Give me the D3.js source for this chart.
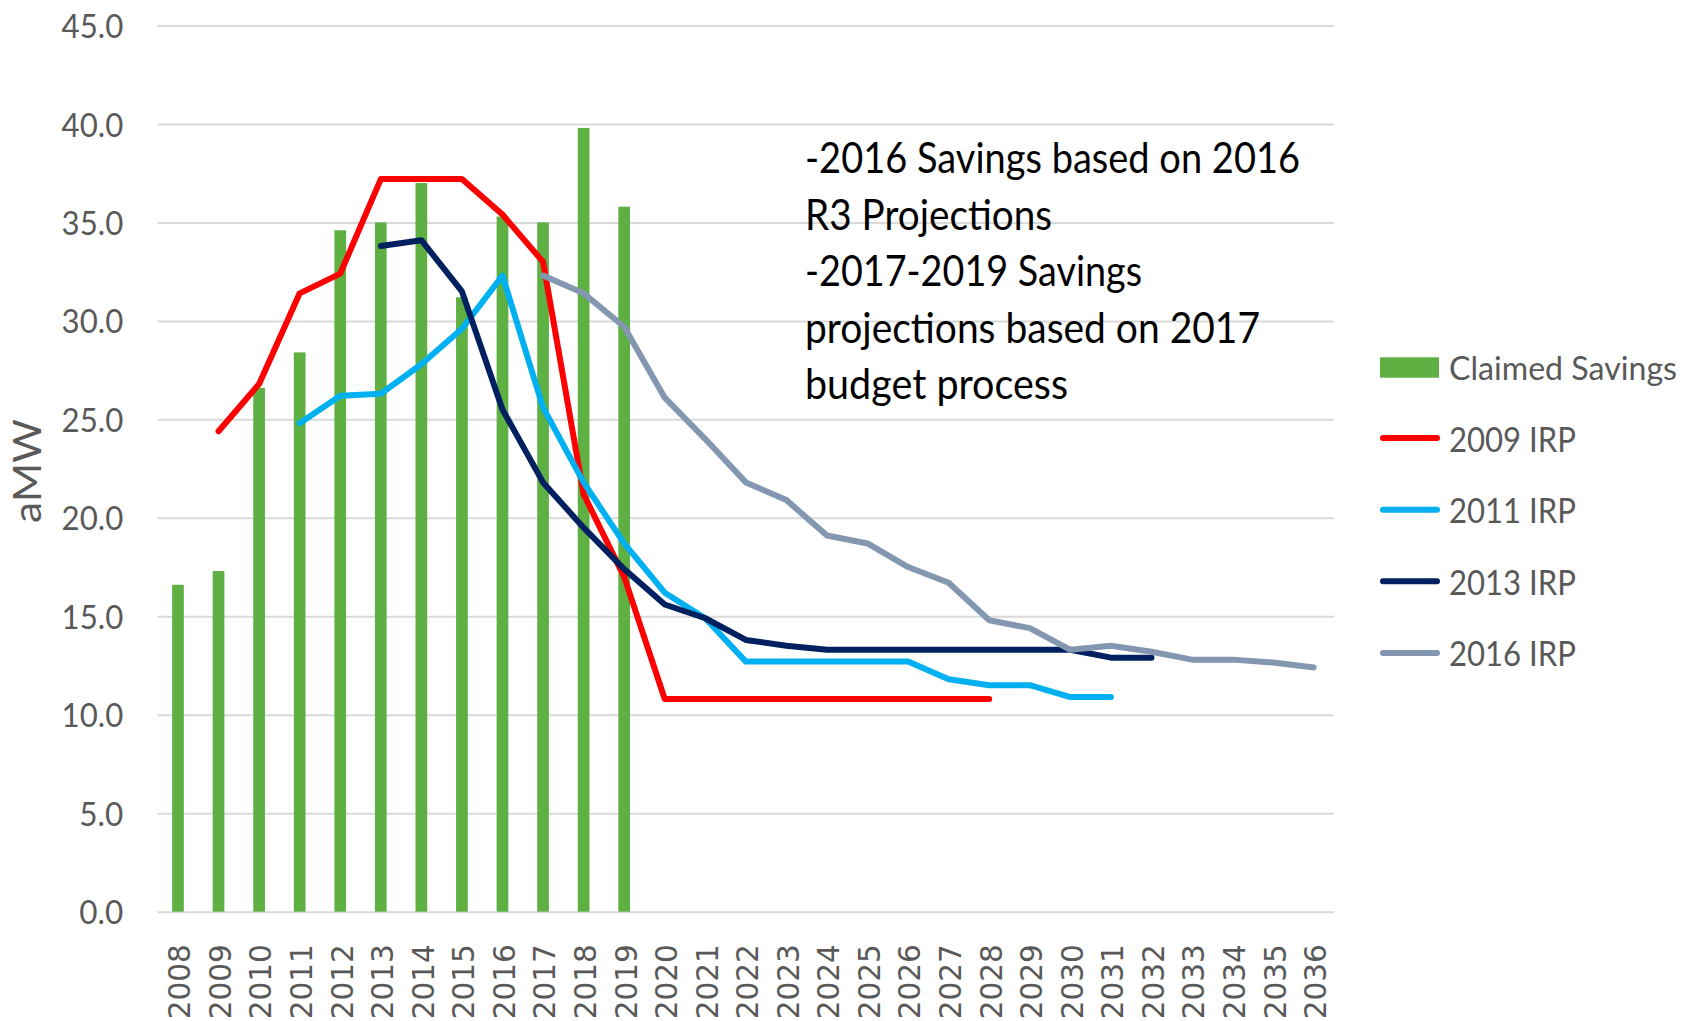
<!DOCTYPE html>
<html><head><meta charset="utf-8">
<script src="https://cdn.jsdelivr.net/npm/d3@7"></script>
<style>body{margin:0;background:#fff;overflow:hidden}</style>
</head><body>
<svg id="chart" width="1686" height="1021"></svg>
<script>
const years = ["2008","2009","2010","2011","2012","2013","2014","2015","2016","2017","2018","2019","2020","2021","2022","2023","2024","2025","2026","2027","2028","2029","2030","2031","2032","2033","2034","2035","2036"];
const yTicks = [0,5,10,15,20,25,30,35,40,45];
const claimedYears = ["2008","2009","2010","2011","2012","2013","2014","2015","2016","2017","2018","2019"];
const claimedSavings = [16.6,17.3,26.6,28.4,34.6,35.0,37.0,31.2,35.3,35.0,39.8,35.8];
const irp2009 = [null,24.4,26.8,31.4,32.4,37.2,37.2,37.2,35.4,33.0,21.2,17.0,10.8,10.8,10.8,10.8,10.8,10.8,10.8,10.8,10.8,null,null,null,null,null,null,null,null];
const irp2011 = [null,null,null,24.8,26.2,26.3,27.8,29.6,32.3,25.6,21.8,18.7,16.2,14.9,12.7,12.7,12.7,12.7,12.7,11.8,11.5,11.5,10.9,10.9,null,null,null,null,null];
const irp2013 = [null,null,null,null,null,33.8,34.1,31.5,25.5,21.8,19.5,17.4,15.6,14.9,13.8,13.5,13.3,13.3,13.3,13.3,13.3,13.3,13.3,12.9,12.9,null,null,null,null];
const irp2016 = [null,null,null,null,null,null,null,null,null,32.3,31.4,29.7,26.1,24.0,21.8,20.9,19.1,18.7,17.5,16.7,14.8,14.4,13.3,13.5,13.2,12.8,12.8,12.65,12.4];
const seriesNames = ["2009 IRP","2011 IRP","2013 IRP","2016 IRP"];
const seriesColors = ["#ff0000","#00b0f0","#002060","#8497b0"];
const barName = "Claimed Savings";
const barColor = "#5eb043";
const noteLines = ["-2016 Savings based on 2016","R3 Projections","-2017-2019 Savings","projections based on 2017","budget process"];
const noteWidths = [495,247,337,455,263];

const svg = d3.select("#chart");
const plotL = 157.7, plotR = 1334, plotT = 25.5, plotB = 911.7;
const x = d3.scaleBand().domain(years).range([plotL, plotR]).padding(0);
const y = d3.scaleLinear().domain([0,45]).range([plotB, plotT]);
const fontMain = "Lato, 'Open Sans', sans-serif";

// gridlines + y labels
const yAxis = d3.axisLeft(y).tickValues(yTicks).tickFormat(d3.format(".1f"))
  .tickSize(-(plotR-plotL)).tickPadding(34.4);
const gy = svg.append("g").attr("transform",`translate(${plotL},0)`).call(yAxis);
gy.select(".domain").remove();
gy.selectAll(".tick line").attr("stroke","#d9d9d9").attr("stroke-width",2);
gy.selectAll(".tick text").attr("fill","#595959").attr("font-family",fontMain)
  .attr("font-size",33.5).attr("dy","0.36em")
  .attr("textLength", d => { const s = d3.format(".1f")(d); return (s.length-1)*17.7+8.6; })
  .attr("lengthAdjust","spacingAndGlyphs");

// x labels
const xAxis = d3.axisBottom(x).tickSize(0);
const gx = svg.append("g").attr("transform",`translate(0,${plotB})`).call(xAxis);
gx.select(".domain").remove();
gx.selectAll(".tick text").attr("fill","#595959").attr("font-family","'DejaVu Sans', sans-serif")
  .attr("font-size",29.5).attr("text-anchor","end").attr("transform","rotate(-90)")
  .attr("x",-32.5).attr("y",0).attr("dy","0.42em");

// bars
const bw = 11.7;
svg.append("g").selectAll("rect").data(claimedSavings).join("rect")
  .attr("x",(d,i)=>x(claimedYears[i])+x.bandwidth()/2-bw/2)
  .attr("y",d=>y(d)).attr("width",bw).attr("height",d=>y(0)-y(d))
  .attr("fill",barColor);

// lines
const allSeries = [irp2009, irp2011, irp2013, irp2016];
const line = d3.line().defined(d=>d!=null).x((d,i)=>x(years[i])+x.bandwidth()/2).y(d=>y(d));
allSeries.forEach((s,k)=>{
  svg.append("path").datum(s).attr("d",line).attr("fill","none")
    .attr("stroke",seriesColors[k]).attr("stroke-width",6)
    .attr("stroke-linejoin","round").attr("stroke-linecap","round");
});

// y title
svg.append("text").attr("transform","translate(41,471) rotate(-90)")
  .attr("text-anchor","middle").attr("fill","#595959").attr("font-family",fontMain)
  .attr("font-size",38).attr("textLength",104).attr("lengthAdjust","spacingAndGlyphs").text("aMW");

// annotation
noteLines.forEach((t,i)=>{
  svg.append("text").attr("x",805).attr("y",173+56.6*i).attr("fill","#000")
    .attr("font-family",fontMain).attr("font-size",42)
    .attr("textLength",noteWidths[i]).attr("lengthAdjust","spacingAndGlyphs").text(t);
});

// legend
const lg = svg.append("g");
const legY0 = 380, legStep = 71.6;
lg.append("rect").attr("x",1380).attr("y",357.3).attr("width",59).attr("height",20.4).attr("fill",barColor);
lg.append("text").attr("x",1449).attr("y",legY0).attr("fill","#595959").attr("font-family",fontMain)
  .attr("font-size",32).attr("textLength",228).attr("lengthAdjust","spacingAndGlyphs").text(barName);
seriesNames.forEach((n,k)=>{
  const by = legY0 + legStep*(k+1);
  lg.append("line").attr("x1",1383).attr("x2",1437).attr("y1",by-13.5).attr("y2",by-13.5)
    .attr("stroke",seriesColors[k]).attr("stroke-width",6).attr("stroke-linecap","round");
  lg.append("text").attr("x",1449).attr("y",by).attr("fill","#595959").attr("font-family",fontMain)
    .attr("font-size",35).attr("textLength",127).attr("lengthAdjust","spacingAndGlyphs").text(n);
});
</script>
</body></html>
